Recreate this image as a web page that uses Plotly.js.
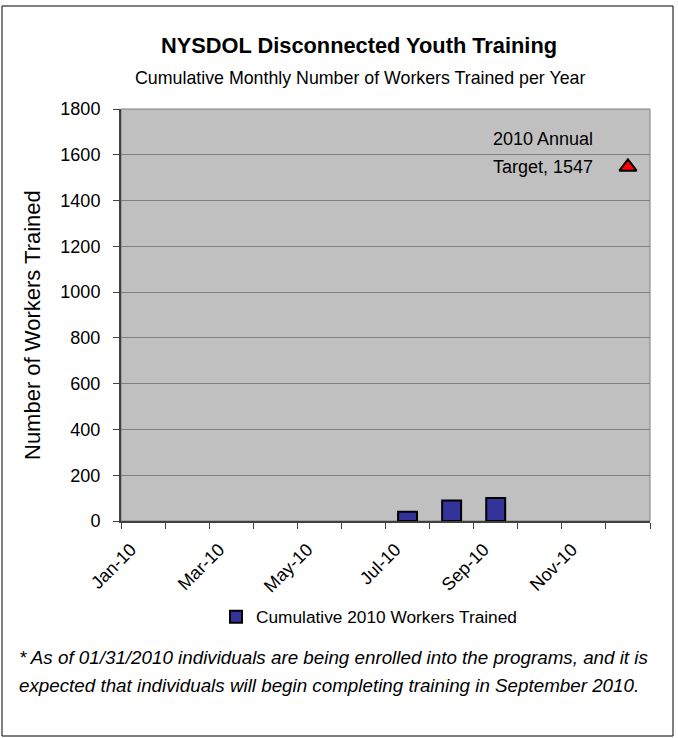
<!DOCTYPE html>
<html>
<head>
<meta charset="utf-8">
<script src="https://cdn.plot.ly/plotly-3.0.1.min.js"></script>
<style>
  html, body { margin: 0; padding: 0; background: #ffffff; }
  #chart { width: 678px; height: 738px; }
</style>
</head>
<body>
<div id="chart"></div>
<script>
// ---- Data ----
const months = ['Jan-10','Feb-10','Mar-10','Apr-10','May-10','Jun-10','Jul-10','Aug-10','Sep-10','Oct-10','Nov-10','Dec-10'];
const tickLabels = ['Jan-10','','Mar-10','','May-10','','Jul-10','','Sep-10','','Nov-10',''];
const workersTrained = [null, null, null, null, null, null, 40, 90, 100, null, null, null];
const targetMonth = ['Dec-10'];
const targetValue = [1547];
const seriesName = 'Cumulative 2010 Workers Trained';
const targetLabelLine1 = '2010 Annual';
const targetLabelLine2 = 'Target, ' + targetValue[0];
const titleText = 'NYSDOL Disconnected Youth Training';
const subtitleText = 'Cumulative Monthly Number of Workers Trained per Year';
const yTitleText = 'Number of Workers Trained';
const footLine1 = '* As of 01/31/2010 individuals are being enrolled into the programs, and it is';
const footLine2 = 'expected that individuals will begin completing training in September 2010.';

// ---- Layout helpers (pixel -> paper) ----
const W = 678, H = 738;
const L = 121, R = 650, T = 109, B = 521;
const px = x => (x - L) / (R - L);
const py = y => (B - y) / (B - T);

const FONT = 'Liberation Sans, Arial, sans-serif';

const traces = [
  {
    type: 'bar',
    x: months,
    y: workersTrained,
    name: seriesName,
    width: 0.43,
    marker: { color: '#333399', line: { color: '#000000', width: 2 } },
    showlegend: true,
    hoverinfo: 'x+y'
  },
  {
    type: 'scatter',
    mode: 'markers',
    x: targetMonth,
    y: targetValue,
    name: 'Target',
    marker: { symbol: 'triangle-up', size: 15, color: '#FF0000', line: { color: '#000000', width: 2 } },
    showlegend: false
  }
];

const layout = {
  width: W, height: H,
  margin: { l: L, r: W - R, t: T, b: H - B, pad: 0 },
  paper_bgcolor: '#FFFFFF',
  plot_bgcolor: '#C0C0C0',
  font: { family: FONT, color: '#000000', size: 16 },
  showlegend: true,
  legend: {
    orientation: 'h',
    x: px(216), xanchor: 'left',
    y: py(617), yanchor: 'middle',
    font: { family: FONT, size: 17.3, color: '#000' },
    bgcolor: 'rgba(0,0,0,0)',
    itemclick: false
  },
  xaxis: {
    type: 'category',
    range: [-0.5, 11.5],
    tickmode: 'array',
    tickvals: months,
    ticktext: tickLabels,
    tickson: 'boundaries',
    ticks: 'outside',
    ticklen: 6,
    tickwidth: 1,
    tickcolor: '#404040',
    tickangle: -45,
    ticklabelshift: -12,
    ticklabelstandoff: 9,
    tickfont: { family: FONT, size: 18, color: '#000' },
    showgrid: false,
    showline: true,
    linecolor: '#404040',
    linewidth: 2,
    zeroline: false,
    fixedrange: true
  },
  yaxis: {
    range: [0, 1800],
    tickmode: 'linear',
    tick0: 0,
    dtick: 200,
    ticks: 'outside',
    ticklen: 6,
    tickwidth: 1,
    tickcolor: '#404040',
    ticklabelstandoff: 9,
    tickfont: { family: FONT, size: 18, color: '#000' },
    showgrid: true,
    gridcolor: '#808080',
    gridwidth: 1,
    showline: true,
    linecolor: '#404040',
    linewidth: 2,
    zeroline: false,
    fixedrange: true
  },
  shapes: [
    { type: 'rect', xref: 'paper', yref: 'paper', x0: 0, x1: 1, y0: 0, y1: 1,
      line: { color: '#808080', width: 1 }, layer: 'below' },
    { type: 'rect', xref: 'paper', yref: 'paper',
      x0: px(2), x1: px(673), y0: py(736), y1: py(6),
      line: { color: '#000000', width: 1 }, fillcolor: 'rgba(0,0,0,0)' }
  ],
  annotations: [
    { text: '<b>' + titleText + '</b>', xref: 'paper', yref: 'paper', x: px(359), y: py(45),
      xanchor: 'center', yanchor: 'middle', showarrow: false,
      font: { family: FONT, size: 21.8, color: '#000' } },
    { text: subtitleText, xref: 'paper', yref: 'paper', x: px(360), y: py(78),
      xanchor: 'center', yanchor: 'middle', showarrow: false,
      font: { family: FONT, size: 17.8, color: '#000' } },
    { text: yTitleText, xref: 'paper', yref: 'paper', x: px(32), y: py(325),
      xanchor: 'center', yanchor: 'middle', textangle: -90, showarrow: false,
      font: { family: FONT, size: 22, color: '#000' } },
    { text: targetLabelLine1, xref: 'x', yref: 'y', x: targetMonth[0], y: targetValue[0],
      xanchor: 'left', yanchor: 'middle', xshift: -137, yshift: 28, showarrow: false,
      font: { family: FONT, size: 18, color: '#000' } },
    { text: targetLabelLine2, xref: 'x', yref: 'y', x: targetMonth[0], y: targetValue[0],
      xanchor: 'left', yanchor: 'middle', xshift: -137, yshift: 0, showarrow: false,
      font: { family: FONT, size: 18, color: '#000' } },
    { text: '<i>' + footLine1 + '</i>', xref: 'paper', yref: 'paper', x: px(17), y: py(657),
      xanchor: 'left', yanchor: 'middle', showarrow: false,
      font: { family: FONT, size: 18.8, color: '#000' } },
    { text: '<i>' + footLine2 + '</i>', xref: 'paper', yref: 'paper', x: px(17), y: py(685),
      xanchor: 'left', yanchor: 'middle', showarrow: false,
      font: { family: FONT, size: 18.8, color: '#000' } }
  ]
};

Plotly.newPlot('chart', traces, layout, { displayModeBar: false, staticPlot: true });
</script>
</body>
</html>
